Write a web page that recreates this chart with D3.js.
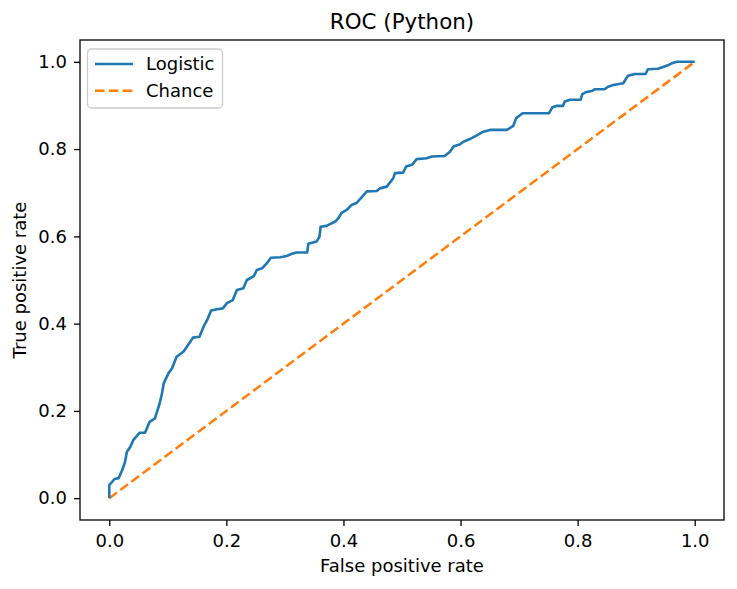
<!DOCTYPE html>
<html>
<head>
<meta charset="utf-8">
<script src="https://cdn.jsdelivr.net/npm/d3@7"></script>
<style>
  body { margin: 0; background: #fff; }
  svg { font-family: "DejaVu Sans", sans-serif; }
</style>
</head>
<body>
<div id="container"></div>
<script>
// ROC curve, logistic model vs chance line

const fpr = [0, 0, 0.009, 0.016, 0.022, 0.027, 0.030, 0.036, 0.041, 0.052, 0.061, 0.069, 0.078, 0.086, 0.090,
    0.093, 0.101, 0.107, 0.115, 0.127, 0.138, 0.143, 0.154, 0.161, 0.167, 0.174, 0.184, 0.194, 0.201, 0.211,
    0.218, 0.229, 0.235, 0.247, 0.252, 0.261, 0.269, 0.276, 0.292, 0.303, 0.312, 0.320, 0.338, 0.340, 0.354,
    0.359, 0.361, 0.371, 0.386, 0.391, 0.397, 0.406, 0.414, 0.423, 0.428, 0.440, 0.457, 0.462, 0.474, 0.485,
    0.488, 0.502, 0.507, 0.517, 0.525, 0.542, 0.551, 0.573, 0.582, 0.588, 0.599, 0.605, 0.616, 0.630, 0.639,
    0.650, 0.679, 0.690, 0.695, 0.706, 0.751, 0.757, 0.764, 0.775, 0.778, 0.787, 0.805, 0.808, 0.815, 0.824,
    0.829, 0.846, 0.852, 0.861, 0.878, 0.883, 0.886, 0.898, 0.916, 0.920, 0.937, 0.946, 0.954, 0.960, 0.969, 1.0]

const tpr = [0, 0.030, 0.044, 0.046, 0.064, 0.083, 0.106, 0.118, 0.133, 0.150, 0.150, 0.175, 0.183, 0.217, 0.240,
    0.263, 0.286, 0.297, 0.324, 0.336, 0.358, 0.368, 0.370, 0.393, 0.408, 0.430, 0.433, 0.435, 0.447, 0.454,
    0.477, 0.481, 0.500, 0.509, 0.523, 0.527, 0.538, 0.551, 0.552, 0.555, 0.560, 0.563, 0.563, 0.583, 0.588,
    0.599, 0.622, 0.624, 0.634, 0.641, 0.654, 0.661, 0.672, 0.677, 0.685, 0.703, 0.704, 0.710, 0.714, 0.733,
    0.745, 0.746, 0.760, 0.764, 0.777, 0.779, 0.783, 0.784, 0.794, 0.806, 0.811, 0.817, 0.823, 0.833, 0.840,
    0.844, 0.844, 0.853, 0.871, 0.882, 0.882, 0.896, 0.899, 0.899, 0.909, 0.913, 0.913, 0.926, 0.931, 0.933,
    0.937, 0.937, 0.943, 0.947, 0.951, 0.962, 0.968, 0.972, 0.972, 0.983, 0.984, 0.988, 0.992, 0.996, 1.0, 1.0]

const chanceX = [0, 1]
const chanceY = [0, 1]

const xTicks = [0, 0.2, 0.4, 0.6, 0.8, 1.0]
const yTicks = [0, 0.2, 0.4, 0.6, 0.8, 1.0]

const seriesNames = ["Logistic", "Chance"]
const seriesColors = ["#1f77b4", "#ff7f0e"]

const width = 737,
    height = 589
const plot = {
    left: 80,
    right: 724,
    top: 40,
    bottom: 520,
}
const fontSize = 18

const svg = d3.select("#container").append("svg")
    .attr("width", width)
    .attr("height", height)

const x = d3.scaleLinear().domain([-0.05, 1.05]).range([plot.left, plot.right])
const y = d3.scaleLinear().domain([-0.05, 1.05]).range([plot.bottom, plot.top])

// axes
const xAxis = svg.append("g")
    .attr("transform", `translate(0,${plot.bottom})`)
    .call(d3.axisBottom(x).tickValues(xTicks).tickSize(6).tickPadding(8).tickFormat(d3.format(".1f")))
const yAxis = svg.append("g")
    .attr("transform", `translate(${plot.left},0)`)
    .call(d3.axisLeft(y).tickValues(yTicks).tickSize(6).tickPadding(7).tickFormat(d3.format(".1f")))

for (const ax of [xAxis, yAxis]) {
    ax.select(".domain").remove()
    ax.selectAll(".tick line").attr("stroke", "#000").attr("stroke-width", 1.3)
    ax.selectAll(".tick text")
        .attr("fill", "#000")
        .style("font-size", fontSize + "px")
        .style("font-family", "DejaVu Sans")
}

// lines
const lineGen = d3.line().x((d) => x(d[0])).y((d) => y(d[1]))

svg.append("path")
    .datum(chanceX.map((v, i) => [v, chanceY[i]]))
    .attr("d", lineGen)
    .attr("fill", "none")
    .attr("stroke", seriesColors[1])
    .attr("stroke-width", 2.6)
    .attr("stroke-dasharray", "9.6,4.2")

svg.append("path")
    .datum(fpr.map((v, i) => [v, tpr[i]]))
    .attr("d", lineGen)
    .attr("fill", "none")
    .attr("stroke", seriesColors[0])
    .attr("stroke-width", 2.6)
    .attr("stroke-linejoin", "round")

// frame
svg.append("rect")
    .attr("x", plot.left)
    .attr("y", plot.top)
    .attr("width", plot.right - plot.left)
    .attr("height", plot.bottom - plot.top)
    .attr("fill", "none")
    .attr("stroke", "#000")
    .attr("stroke-width", 1.3)

// labels
svg.append("text")
    .attr("x", (plot.left + plot.right) / 2)
    .attr("y", 29)
    .attr("text-anchor", "middle")
    .style("font-size", "21.4px")
    .text("ROC (Python)")

svg.append("text")
    .attr("x", (plot.left + plot.right) / 2)
    .attr("y", 572)
    .attr("text-anchor", "middle")
    .style("font-size", fontSize + "px")
    .text("False positive rate")

svg.append("text")
    .attr("transform", `translate(26,${(plot.top + plot.bottom) / 2}) rotate(-90)`)
    .attr("text-anchor", "middle")
    .style("font-size", fontSize + "px")
    .text("True positive rate")

// legend
const legend = svg.append("g").attr("id", "legend")
legend.append("rect")
    .attr("x", 87.5)
    .attr("y", 49)
    .attr("width", 135)
    .attr("height", 59)
    .attr("rx", 4)
    .attr("fill", "#fff")
    .attr("fill-opacity", 0.8)
    .attr("stroke", "#cccccc")
    .attr("stroke-width", 1.3)

const legendRows = legend.selectAll("g.row")
    .data(seriesNames)
    .enter()
    .append("g")
    .attr("class", "row")
    .attr("transform", (d, i) => `translate(0,${64 + i * 26.7})`)

legendRows.append("line")
    .attr("x1", 95)
    .attr("x2", 133)
    .attr("stroke", (d, i) => seriesColors[i])
    .attr("stroke-width", 2.6)
    .attr("stroke-dasharray", (d, i) => i === 1 ? "9.6,4.2" : null)

legendRows.append("text")
    .attr("x", 146)
    .attr("dy", "0.35em")
    .style("font-size", fontSize + "px")
    .text((d) => d)
</script>
</body>
</html>
